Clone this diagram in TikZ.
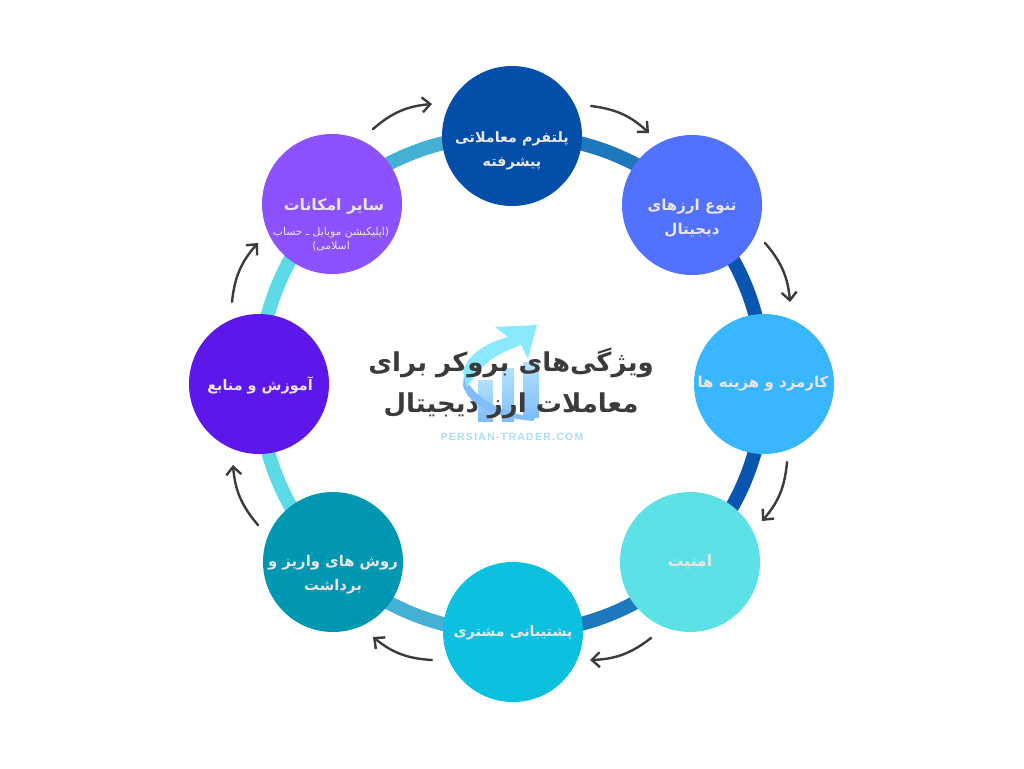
\documentclass[tikz,border=0pt]{standalone}
\usepackage{fontspec}
\setmainfont{DejaVu Sans}
\newfontfamily\arabicfont[Script=Arabic]{DejaVu Sans}
\newfontfamily\logofont[LetterSpace=12]{Liberation Sans}
\TeXXeTstate=1
\usetikzlibrary{arrows.meta,backgrounds}
\definecolor{inktext}{HTML}{3B3B3B}
\definecolor{palewhite}{HTML}{EAE6E3}
\definecolor{logoblue}{HTML}{7FBDFB}
\definecolor{logopale}{HTML}{B4E2FD}
\definecolor{logocyan}{HTML}{8AE9FC}
\definecolor{logoword}{HTML}{A9DEFB}

\begin{document}
\begin{tikzpicture}[x=1pt,y=-1pt,inner sep=0pt,outer sep=0pt,
featcircle/.style={circle,minimum size=140pt},
featlabel/.style={align=center,text=palewhite,font=\fontsize{#1}{24}\selectfont\arabicfont\bfseries},
ringseg/.style={line width=14pt,bend left=22.5,looseness=.9},
flowarrow/.style={-{Straight Barb[length=8pt,width=15pt]},line width=2.4pt,color=inktext,line cap=round,bend left=18}]

\useasboundingbox (0,0) rectangle (1024,768);

% logo behind the title
\shade[top color=logopale,bottom color=logoblue] (478,380) rectangle (493,421);
\shade[top color=logopale,bottom color=logoblue] (502,368) rectangle (514,421);
\shade[top color=logopale,bottom color=logoblue] (523,362) rectangle (539,417);
\fill[logoblue] (464,374) .. controls (474,402) and (505,412) .. (535,418) -- (533,421) .. controls (500,418) and (470,408) .. (463,386) -- cycle;
\fill[logocyan] (463,372) .. controls (468,352) and (490,342) .. (508,337) -- (495,327) -- (537,325) -- (528,359) -- (521,345) .. controls (503,352) and (482,360) .. (467,388) -- cycle;

% features
\draw (512,136) node[featcircle,fill={rgb,255:red,3;green,78;blue,168}] (platform) {};
\draw (692,205) node[featcircle,fill={rgb,255:red,82;green,113;blue,255}] (currencies) {};
\draw (764,384) node[featcircle,fill={rgb,255:red,56;green,182;blue,255}] (fees) {};
\draw (690,562) node[featcircle,fill={rgb,255:red,92;green,225;blue,230}] (security) {};
\draw (513,632) node[featcircle,fill={rgb,255:red,12;green,192;blue,223}] (support) {};
\draw (333,562) node[featcircle,fill={rgb,255:red,0;green,151;blue,178}] (payment) {};
\draw (259,384) node[featcircle,fill={rgb,255:red,94;green,23;blue,235}] (learning) {};
\draw (332,204) node[featcircle,fill={rgb,255:red,140;green,82;blue,255}] (other) {};

% feature names
\draw (512,151) node[featlabel=14.3] (platformtext) {\beginR پلتفرم معاملاتی\endR\\\beginR پیشرفته\endR};
\draw (692,218) node[featlabel=15] (currenciestext) {\beginR تنوع ارزهای\endR\\\beginR دیجیتال\endR};
\draw (763,384) node[featlabel=15] (feestext) {\beginR کارمزد و هزینه ها\endR};
\draw (690,562) node[featlabel=15.6] (securitytext) {\beginR امنیت\endR};
\draw (513,633) node[featlabel=14.3] (supporttext) {\beginR پشتیبانی مشتری\endR};
\draw (333,575) node[featlabel=14.8] (paymenttext) {\beginR روش های واریز و\endR\\\beginR برداشت\endR};
\draw (260,385) node[featlabel=14.4] (learningtext) {\beginR آموزش و منابع\endR};
\draw (334,206) node[featlabel=15.7] (othertext) {\beginR سایر امکانات\endR};
\draw (331,239) node[align=center,text=palewhite,font=\fontsize{10.8}{14}\selectfont\arabicfont] (otherfine) {\beginR (اپلیکیشن موبایل ـ حساب\endR\\\beginR اسلامی)\endR};

% ring
\begin{scope}[on background layer]
\draw[ringseg,color={rgb,255:red,30;green,120;blue,190}] (platform.center) to (currencies.center);
\draw[ringseg,color={rgb,255:red,10;green,85;blue,176}] (currencies.center) to (fees.center);
\draw[ringseg,color={rgb,255:red,10;green,85;blue,176}] (fees.center) to (security.center);
\draw[ringseg,color={rgb,255:red,30;green,120;blue,190}] (security.center) to (support.center);
\draw[ringseg,color={rgb,255:red,68;green,176;blue,213}] (support.center) to (payment.center);
\draw[ringseg,color={rgb,255:red,92;green,219;blue,230}] (payment.center) to (learning.center);
\draw[ringseg,color={rgb,255:red,92;green,219;blue,230}] (learning.center) to (other.center);
\draw[ringseg,color={rgb,255:red,68;green,176;blue,213}] (other.center) to (platform.center);
\end{scope}

% direction arrows
\coordinate (out1) at (591,106); \coordinate (in1) at (649,133);
\coordinate (out2) at (765,243); \coordinate (in2) at (790,302);
\coordinate (out3) at (787,462); \coordinate (in3) at (762,521);
\coordinate (out4) at (651,638); \coordinate (in4) at (590,660);
\coordinate (out5) at (432,660); \coordinate (in5) at (373,637);
\coordinate (out6) at (258,525); \coordinate (in6) at (233,465);
\coordinate (out7) at (232,302); \coordinate (in7) at (258,243);
\coordinate (out8) at (373,129); \coordinate (in8) at (432,104);
\draw[flowarrow] (out1) to (in1);
\draw[flowarrow] (out2) to (in2);
\draw[flowarrow] (out3) to (in3);
\draw[flowarrow] (out4) to (in4);
\draw[flowarrow] (out5) to (in5);
\draw[flowarrow] (out6) to (in6);
\draw[flowarrow] (out7) to (in7);
\draw[flowarrow] (out8) to (in8);

% title
\draw (511,383) node[align=center,text=inktext,font=\fontsize{26}{41}\selectfont\arabicfont\bfseries] (title) {\beginR ویژگی‌های بروکر برای\endR\\\beginR معاملات ارز دیجیتال\endR};
\draw (512,437) node[text=logoword,font=\fontsize{10.5}{12}\selectfont\logofont\bfseries] (site) {PERSIAN-TRADER.COM};
\end{tikzpicture}
\end{document}
